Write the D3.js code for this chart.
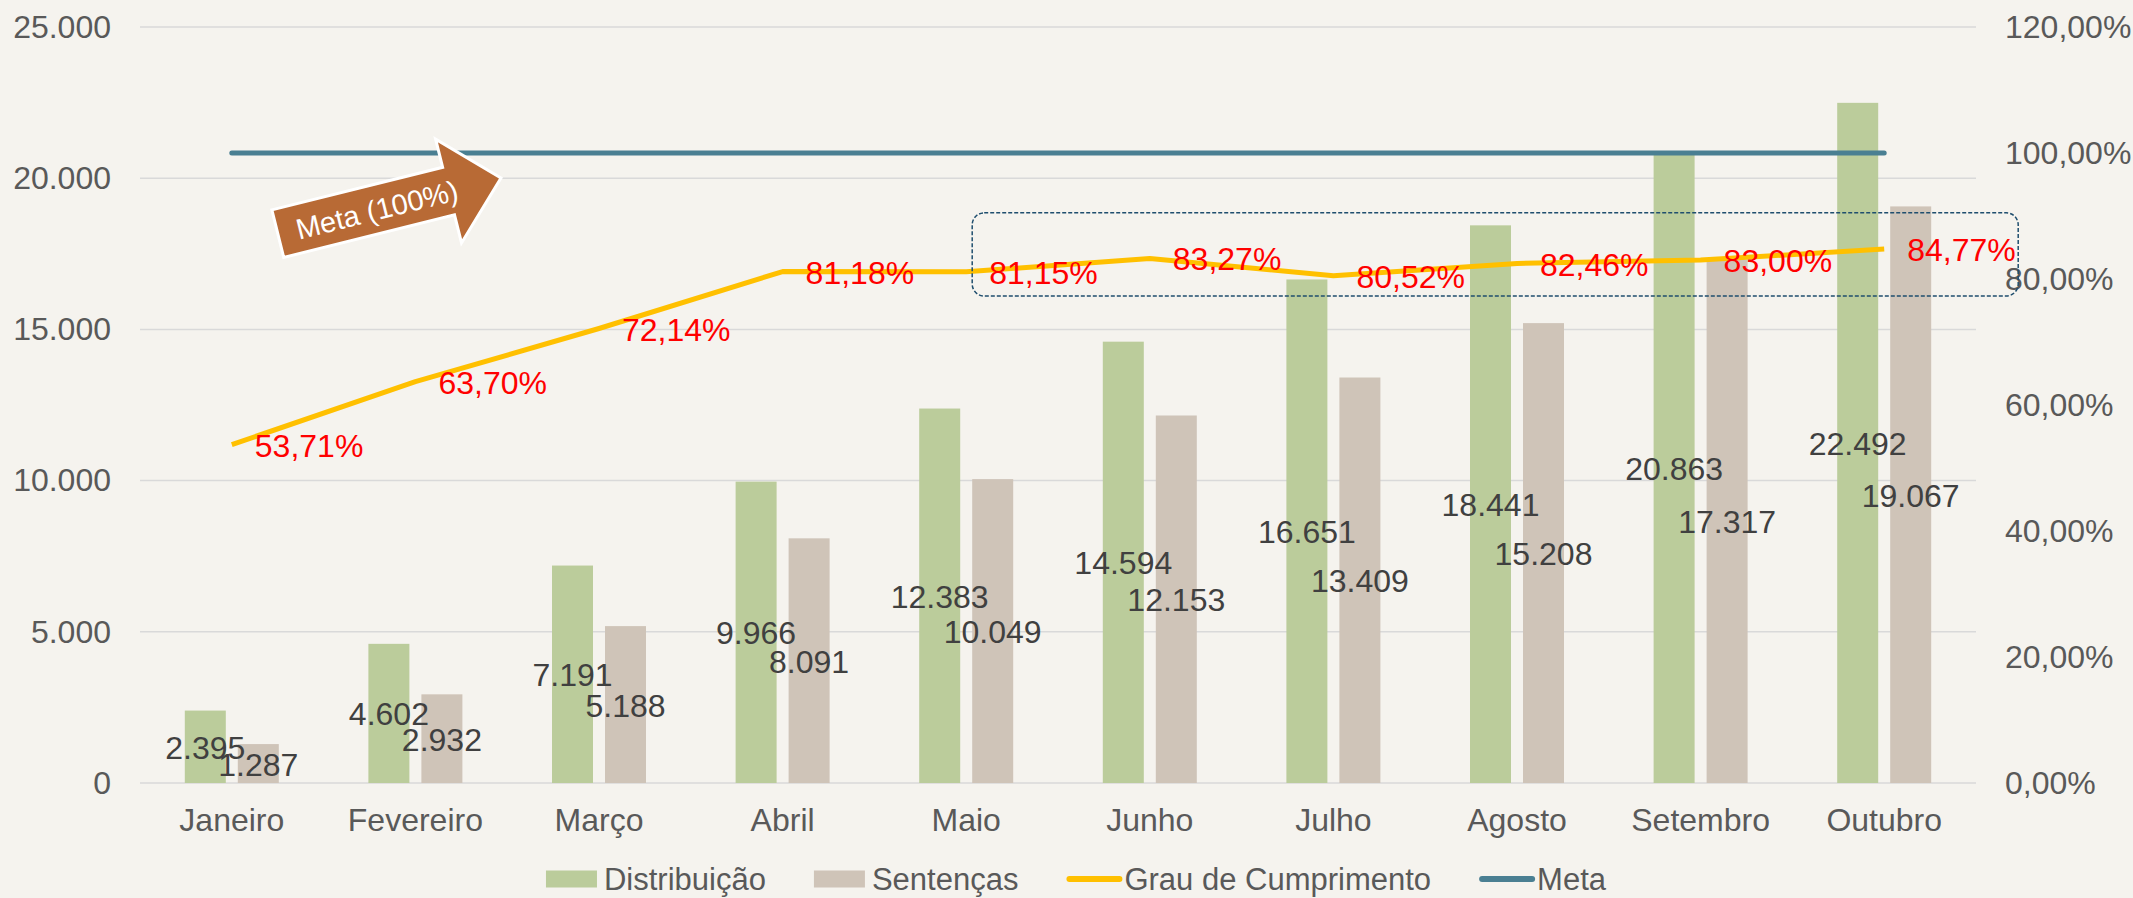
<!DOCTYPE html>
<html>
<head>
<meta charset="utf-8">
<script src="https://cdn.jsdelivr.net/npm/d3@7"></script>
<style>
  html, body { margin: 0; padding: 0; background: #f5f3ee; }
  svg { display: block; font-family: "Liberation Sans", Arial, sans-serif; }
</style>
</head>
<body>
<div id="chart"></div>
<script>
var meses = ["Janeiro", "Fevereiro", "Março", "Abril", "Maio", "Junho", "Julho", "Agosto", "Setembro", "Outubro"];
var distribuicao = [2395, 4602, 7191, 9966, 12383, 14594, 16651, 18441, 20863, 22492];
var sentencas = [1287, 2932, 5188, 8091, 10049, 12153, 13409, 15208, 17317, 19067];
var grau = [53.71, 63.70, 72.14, 81.18, 81.15, 83.27, 80.52, 82.46, 83.00, 84.77];
var meta = [100, 100, 100, 100, 100, 100, 100, 100, 100, 100];
var leftTicks = [0, 5000, 10000, 15000, 20000, 25000];
var rightTicks = [0, 20, 40, 60, 80, 100, 120];
var legendItems = ["Distribuição", "Sentenças", "Grau de Cumprimento", "Meta"];

var width = 2133, height = 898;
var margin = { top: 27, right: 157, bottom: 115, left: 140 };
var fontSize = 32;

var ptBR = d3.formatLocale({ decimal: ",", thousands: ".", grouping: [3], currency: ["R$", ""] });
var fmtNum = ptBR.format(",.0f");
var fmtPct = function (v) { return ptBR.format(".2f")(v) + "%"; };

var colors = {
  dist: "#bbcc9b",
  sent: "#cfc4b8",
  grau: "#ffc000",
  meta: "#4a7f92",
  grid: "#d9d9d9",
  axis: "#595959",
  label: "#404040",
  pct: "#ff0000",
  arrow: "#b86a35"
};

var svg = d3.select("#chart").append("svg")
  .attr("width", width)
  .attr("height", height);

svg.append("rect").attr("width", width).attr("height", height).attr("fill", "#f5f3ee");

// scales
var x0 = d3.scaleBand()
  .domain(meses)
  .range([margin.left, width - margin.right])
  .padding(0);

var x1 = d3.scaleBand()
  .domain(["dist", "sent"])
  .range([-47, 47])
  .paddingInner(12 / 53);

var yLeft = d3.scaleLinear()
  .domain([0, 25000])
  .range([height - margin.bottom, margin.top]);

var yRight = d3.scaleLinear()
  .domain([0, 120])
  .range([height - margin.bottom, margin.top]);

var cx = function (m) { return x0(m) + x0.bandwidth() / 2; };

var styleText = function (g) {
  g.selectAll("text")
    .attr("font-size", fontSize)
    .attr("font-family", "Liberation Sans, Arial, sans-serif")
    .attr("fill", colors.axis);
};

// gridlines
svg.append("g")
  .selectAll("line")
  .data(leftTicks)
  .join("line")
  .attr("x1", margin.left)
  .attr("x2", width - margin.right)
  .attr("y1", (d) => yLeft(d))
  .attr("y2", (d) => yLeft(d))
  .attr("stroke", colors.grid)
  .attr("stroke-width", 1.5);

// left axis
svg.append("g")
  .attr("transform", `translate(${margin.left - 29},0)`)
  .call(d3.axisLeft(yLeft).tickValues(leftTicks).tickFormat(fmtNum).tickSize(0).tickPadding(0))
  .call((g) => g.select(".domain").remove())
  .call(styleText);

// right axis
svg.append("g")
  .attr("transform", `translate(${width - margin.right + 29},0)`)
  .call(d3.axisRight(yRight).tickValues(rightTicks).tickFormat((d) => ptBR.format(".2f")(d) + "%").tickSize(0).tickPadding(0))
  .call((g) => g.select(".domain").remove())
  .call(styleText);

// bottom axis
svg.append("g")
  .attr("transform", `translate(0,${height - margin.bottom})`)
  .call(d3.axisBottom(x0).tickSize(0).tickPadding(25))
  .call((g) => g.select(".domain").remove())
  .call(styleText);

// bars
var rows = meses.map((m, i) => ({ mes: m, dist: distribuicao[i], sent: sentencas[i] }));

var groups = svg.append("g")
  .selectAll("g")
  .data(rows)
  .join("g")
  .attr("transform", (d) => `translate(${cx(d.mes)},0)`);

groups.selectAll("rect")
  .data((d) => ["dist", "sent"].map((k) => ({ key: k, value: d[k] })))
  .join("rect")
  .attr("x", (d) => x1(d.key))
  .attr("width", x1.bandwidth())
  .attr("y", (d) => yLeft(d.value))
  .attr("height", (d) => yLeft(0) - yLeft(d.value))
  .attr("fill", (d) => colors[d.key]);

// meta line
var line = d3.line()
  .x((d) => cx(d.mes))
  .y((d) => yRight(d.v));

svg.append("path")
  .datum(meses.map((m, i) => ({ mes: m, v: meta[i] })))
  .attr("d", line)
  .attr("fill", "none")
  .attr("stroke", colors.meta)
  .attr("stroke-width", 5)
  .attr("stroke-linecap", "round");

// grau line
svg.append("path")
  .datum(meses.map((m, i) => ({ mes: m, v: grau[i] })))
  .attr("d", line)
  .attr("fill", "none")
  .attr("stroke", colors.grau)
  .attr("stroke-width", 5)
  .attr("stroke-linejoin", "round");

// bar value labels (centered in the bar)
groups.selectAll("text")
  .data((d) => ["dist", "sent"].map((k) => ({ key: k, value: d[k] })))
  .join("text")
  .attr("x", (d) => x1(d.key) + x1.bandwidth() / 2)
  .attr("y", (d) => (yLeft(d.value) + yLeft(0)) / 2 + 1)
  .attr("text-anchor", "middle")
  .attr("dominant-baseline", "central")
  .attr("font-size", fontSize)
  .attr("fill", colors.label)
  .text((d) => fmtNum(d.value));

// percentage labels
svg.append("g")
  .selectAll("text")
  .data(meses.map((m, i) => ({ mes: m, v: grau[i] })))
  .join("text")
  .attr("x", (d) => cx(d.mes) + 23)
  .attr("y", (d) => yRight(d.v) + 1)
  .attr("dominant-baseline", "central")
  .attr("font-size", fontSize)
  .attr("fill", colors.pct)
  .text((d) => fmtPct(d.v));

// dashed highlight box
var bx0 = cx("Maio") + 6, bx1 = cx("Outubro") + 134;
var by0 = yRight(90.5), by1 = yRight(77.3);
svg.append("rect")
  .attr("x", bx0)
  .attr("y", by0)
  .attr("width", bx1 - bx0)
  .attr("height", by1 - by0)
  .attr("rx", 12)
  .attr("fill", "none")
  .attr("stroke", "#1f4e6e")
  .attr("stroke-width", 1.5)
  .attr("stroke-dasharray", "4,2");

// Meta arrow annotation
var ax = cx("Janeiro") + 46, ay = yRight(87.2);
var arrow = svg.append("g")
  .attr("transform", `translate(${ax},${ay}) rotate(-14)`);

arrow.append("path")
  .attr("d", "M0,-24.5 L176,-24.5 L176,-53.5 L230,0 L176,53.5 L176,24.5 L0,24.5 Z")
  .attr("fill", colors.arrow)
  .attr("stroke", "#ffffff")
  .attr("stroke-width", 3)
  .attr("stroke-linejoin", "miter");

arrow.append("text")
  .attr("x", 102)
  .attr("y", 1)
  .attr("text-anchor", "middle")
  .attr("dominant-baseline", "central")
  .attr("font-size", 29)
  .attr("fill", "#ffffff")
  .text("Meta (100%)");

// legend, centred under the plot
var legendFont = 31;
var legend = svg.append("g").attr("transform", "translate(0,879)");
var items = [];
var lx = 0;
legendItems.forEach(function (name, i) {
  var item = legend.append("g");
  if (i < 2) {
    item.append("rect")
      .attr("x", 0).attr("y", -8.5)
      .attr("width", 51).attr("height", 17)
      .attr("fill", i === 0 ? colors.dist : colors.sent);
  } else {
    item.append("line")
      .attr("x1", 3).attr("x2", 53)
      .attr("y1", 0).attr("y2", 0)
      .attr("stroke", i === 2 ? colors.grau : colors.meta)
      .attr("stroke-width", 6)
      .attr("stroke-linecap", "round");
  }
  var t = item.append("text")
    .attr("x", 58)
    .attr("y", 0)
    .attr("dominant-baseline", "central")
    .attr("font-size", legendFont)
    .attr("fill", colors.axis)
    .text(name);
  items.push({ g: item, x: lx });
  lx += 58 + t.node().getComputedTextLength() + 48;
});
var legendWidth = lx - 48;
var legendStart = 1076 - legendWidth / 2;
items.forEach((d) => d.g.attr("transform", `translate(${legendStart + d.x},0)`));
</script>
</body>
</html>
